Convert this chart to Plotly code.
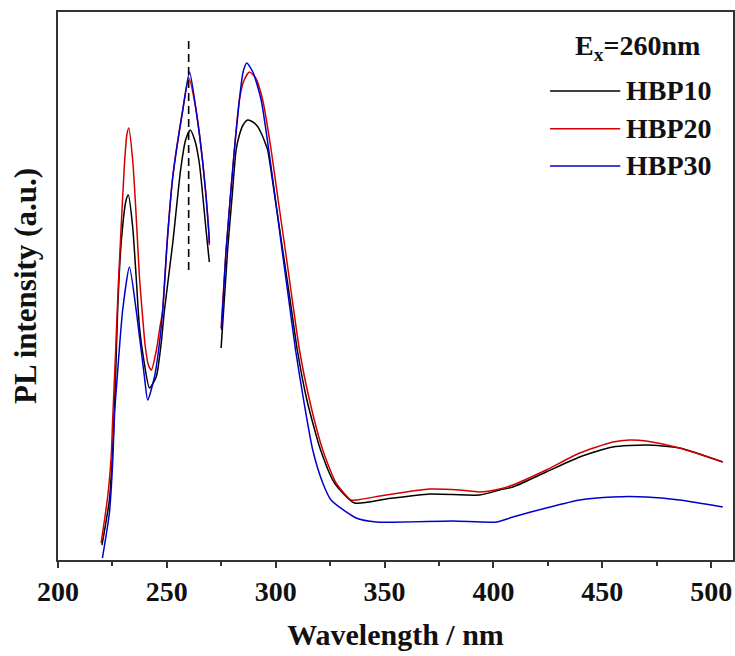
import plotly.graph_objects as go

# ---- data (wavelength in nm, PL intensity in a.u.) ----
# Segment 1 (before excitation gap) and segment 2 (after gap)
hbp10_wl_1 = [220.2, 223.6, 225.1, 226.4, 227.4, 229.0, 231.3, 232.3, 234.3, 235.9, 237.4, 239.4, 242.0,
              245.1, 247.4, 248.9, 252.7, 256.3, 258.6, 260.7, 262.8, 264.9, 268.0, 269.5]
hbp10_in_1 = [15, 60, 110, 180, 250, 317, 360, 365, 333, 283, 233, 200, 172,
              183, 217, 250, 317, 390, 420, 430, 420, 397, 330, 298]
hbp10_wl_2 = [274.9, 277.9, 279.9, 281.8, 283.3, 285.0, 287.1, 289.5, 291.5, 293.3, 295.0, 296.3, 299.8,
              303.2, 306.6, 309.9, 314.3, 320.6, 327.0, 336.2, 350.7, 370.6, 393.6, 402.8, 408.9, 424.2,
              439.6, 454.8, 470.1, 485.4, 505.3]
hbp10_in_2 = [212, 310, 362, 410, 425, 435, 440, 438, 434, 427, 418, 410, 360,
              310, 260, 210, 160, 110, 77, 57, 61, 66, 65, 70, 73, 88,
              103, 113, 115, 112, 98]

hbp20_wl_1 = [219.8, 222.8, 224.4, 225.1, 226.3, 227.6, 229.0, 230.5, 231.6, 232.5, 234.3, 236.0, 237.4,
              238.6, 240.0, 241.5, 242.9, 245.2, 246.6, 248.1, 250.1, 252.7, 257.3, 260.1, 263.4, 266.5,
              269.2, 269.5]
hbp20_in_1 = [17, 63, 103, 140, 200, 270, 333, 395, 425, 432, 400, 340, 283,
              250, 215, 195, 190, 210, 230, 250, 317, 383, 450, 482, 450, 397,
              330, 315]
hbp20_wl_2 = [274.9, 277.2, 281.0, 283.3, 285.5, 287.9, 290.8, 294.0, 297.9, 301.1, 304.4, 307.6, 310.9,
              315.5, 321.6, 327.7, 334.6, 337.1, 350.7, 370.6, 384.4, 393.6, 402.8, 408.9, 424.2, 439.6,
              454.8, 462.5, 470.1, 485.4, 505.3]
hbp20_in_2 = [232, 310, 410, 460, 480, 488, 482, 460, 410, 360, 310, 260, 210,
              160, 110, 77, 60, 60, 65, 71, 70, 68, 71, 75, 90, 107,
              118, 120, 119, 112, 98]

hbp30_wl_1 = [220.4, 223.6, 225.1, 226.0, 227.1, 229.7, 232.8, 235.9, 239.7, 241.2, 244.3, 246.6, 248.1,
              250.1, 252.7, 257.3, 260.4, 263.4, 266.5, 269.2, 269.5]
hbp30_in_1 = [2, 47, 97, 147, 180, 250, 293, 250, 183, 160, 183, 217, 250,
              317, 383, 450, 488, 450, 397, 330, 317]
hbp30_wl_2 = [275.1, 277.2, 281.0, 283.3, 285.0, 286.7, 289.5, 293.3, 296.8, 299.9, 302.9, 306.0, 309.1,
              312.8, 317.0, 321.6, 325.4, 336.9, 346.3, 381.2, 401.4, 408.9, 424.2, 439.6, 454.8, 470.1,
              485.4, 505.3]
hbp30_in_2 = [230, 310, 410, 460, 488, 497, 488, 460, 410, 360, 310, 260, 210,
              160, 110, 77, 60, 42, 38, 39, 38, 43, 52, 60, 63, 63,
              60, 53]

excitation_wl = 260
excitation_marker_in = [290, 522]

series_names = ["HBP10", "HBP20", "HBP30"]
series_colors = ["#000000", "#d40000", "#0000cc"]
legend_title = "E<sub>x</sub>=260nm"

x_ticks = [200, 250, 300, 350, 400, 450, 500]

FONT = "Liberation Serif"
TXT = "#111111"

fig = go.Figure()

series = [
    (hbp10_wl_1, hbp10_in_1, hbp10_wl_2, hbp10_in_2),
    (hbp20_wl_1, hbp20_in_1, hbp20_wl_2, hbp20_in_2),
    (hbp30_wl_1, hbp30_in_1, hbp30_wl_2, hbp30_in_2),
]

for (w1, i1, w2, i2), name, color in zip(series, series_names, series_colors):
    fig.add_trace(go.Scatter(
        x=w1 + [None] + w2,
        y=i1 + [None] + i2,
        mode="lines",
        name=name,
        line=dict(color=color, width=1.5, shape="spline", smoothing=0.6),
        connectgaps=False,
        showlegend=False,
    ))

fig.add_trace(go.Scatter(
    x=[excitation_wl, excitation_wl],
    y=excitation_marker_in,
    mode="lines",
    line=dict(color="#000000", width=1.6, dash="8px,5px"),
    showlegend=False,
))

# ---- manual legend (paper coordinates) ----
shapes = []
annotations = []
legend_rows_y = [0.856, 0.787, 0.719]
for name, color, yy in zip(series_names, series_colors, legend_rows_y):
    shapes.append(dict(type="line", xref="paper", yref="paper",
                       x0=0.729, x1=0.833, y0=yy, y1=yy,
                       line=dict(color=color, width=1.5)))
    annotations.append(dict(xref="paper", yref="paper", x=0.838, y=yy,
                            xanchor="left", yanchor="middle", showarrow=False,
                            text="<b>" + name + "</b>",
                            font=dict(family=FONT, size=28, color=TXT)))
annotations.append(dict(xref="paper", yref="paper", x=0.858, y=0.936,
                        xanchor="center", yanchor="middle", showarrow=False,
                        text="<b>" + legend_title + "</b>",
                        font=dict(family=FONT, size=28, color=TXT)))

fig.update_layout(
    width=735, height=656,
    margin=dict(l=58, r=2, t=12, b=96),
    paper_bgcolor="white", plot_bgcolor="white",
    font=dict(family=FONT, size=20, color=TXT),
    showlegend=False,
    shapes=shapes,
    annotations=annotations,
    xaxis=dict(
        range=[200, 510],
        tickvals=x_ticks,
        ticktext=["<b>%d</b>" % t for t in x_ticks],
        ticks="outside", ticklen=6, tickwidth=1.5, tickcolor="#333333",
        minor=dict(ticks="outside", ticklen=4, tickwidth=1.5, tickcolor="#333333", dtick=25, tick0=200),
        showline=True, linecolor="#333333", linewidth=1.5, mirror=True,
        showgrid=False, zeroline=False, automargin=False,
        tickfont=dict(family=FONT, size=28, color=TXT),
        title=dict(text="<b>Wavelength / nm</b>", standoff=18,
                   font=dict(family=FONT, size=30, color=TXT)),
    ),
    yaxis=dict(
        range=[0, 548],
        showticklabels=False, ticks="",
        showline=True, linecolor="#333333", linewidth=1.5, mirror=True,
        showgrid=False, zeroline=False, automargin=False,
        title=dict(text="<b>PL intensity (a.u.)</b>", standoff=10,
                   font=dict(family=FONT, size=31, color=TXT)),
    ),
)

fig.write_html("out.html",
               config={"displayModeBar": False},
               post_script="document.body.style.margin='0';document.body.style.overflow='hidden';")
